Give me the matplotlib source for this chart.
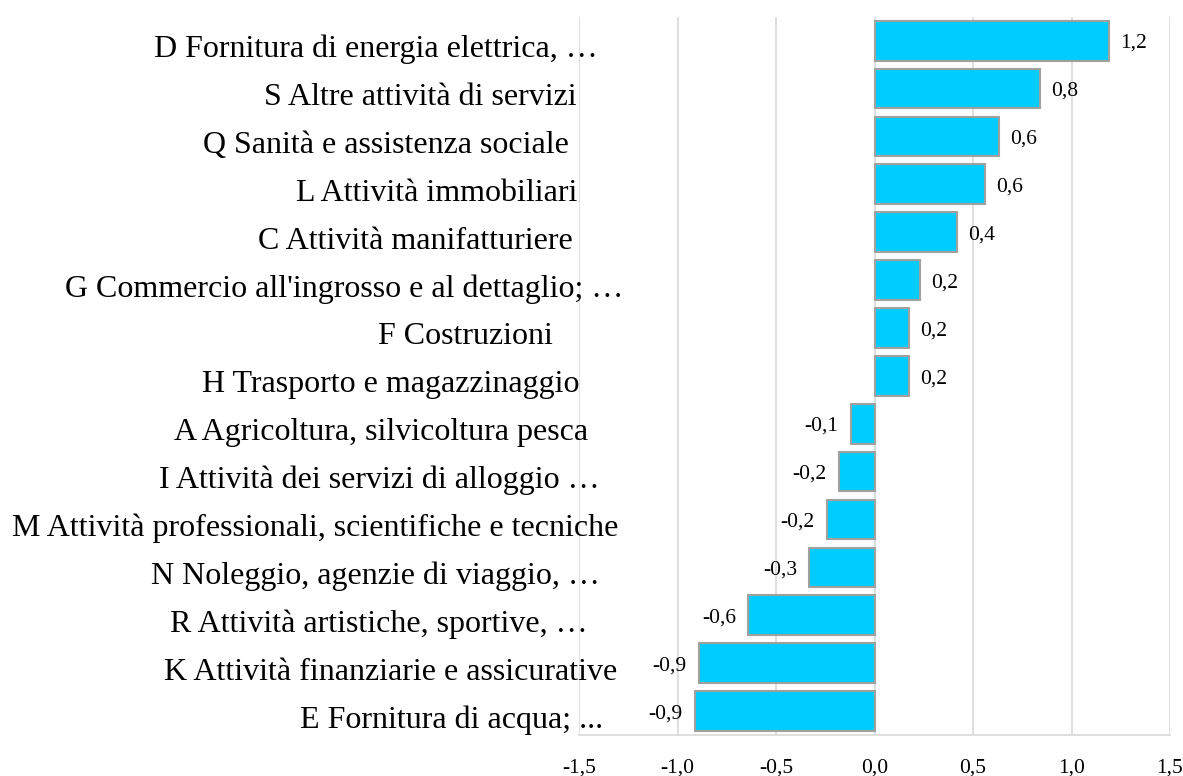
import matplotlib.pyplot as plt
from matplotlib.ticker import FuncFormatter

# Categories, top to bottom
categories = [
    "D Fornitura di energia elettrica, \u2026",
    "S Altre attività di servizi",
    "Q Sanità e assistenza sociale ",
    "L Attività immobiliari",
    "C Attività manifatturiere",
    "G Commercio all'ingrosso e al dettaglio; \u2026",
    "F Costruzioni   ",
    "H Trasporto e magazzinaggio",
    "A Agricoltura, silvicoltura pesca",
    "I Attività dei servizi di alloggio \u2026",
    "M Attività professionali, scientifiche e tecniche",
    "N Noleggio, agenzie di viaggio, \u2026",
    "R Attività artistiche, sportive, \u2026",
    "K Attività finanziarie e assicurative",
    "E Fornitura di acqua; ...",
]
values = [1.19, 0.84, 0.63, 0.56, 0.42, 0.23, 0.175, 0.175,
          -0.12, -0.18, -0.24, -0.33, -0.64, -0.89, -0.91]
x_ticks = [-1.5, -1.0, -0.5, 0.0, 0.5, 1.0, 1.5]

# where each category label ends (figure pixels, from the left)
label_right_px = [598, 577, 577, 577, 573, 623, 577, 579,
                  588, 600, 618, 600, 588, 617, 603]

plt.rcParams['font.family'] = ['Liberation Serif', 'DejaVu Serif']


def fmt(v):
    return f"{v:.1f}".replace('.', ',')


fig = plt.figure(figsize=(11.83, 7.76), dpi=100)
ax = fig.add_axes([579 / 1183, 1 - 735 / 776, (1170 - 579) / 1183, (735 - 16.7) / 776])

pos = list(range(len(categories)))
ax.barh(pos, values, height=0.83, color='#00CCFF', edgecolor='#A0A0A0',
        linewidth=1.5, zorder=3)

ax.set_xlim(-1.5, 1.5)
ax.set_ylim(len(categories) - 0.5, -0.5)
ax.set_xticks(x_ticks)
ax.xaxis.set_major_formatter(FuncFormatter(lambda v, _: fmt(v)))
ax.tick_params(axis='x', length=0, pad=17, labelsize=15.5)
ax.set_yticks([])
ax.grid(axis='x', color='#D9D9D9', linewidth=1.2, zorder=0)

for side in ['top', 'right', 'left']:
    ax.spines[side].set_visible(False)
ax.spines['bottom'].set_color('#D9D9D9')
ax.spines['bottom'].set_linewidth(1.2)

# value labels
for p, v in zip(pos, values):
    if v >= 0:
        ax.annotate(fmt(v), (v, p), xytext=(8, -5.2), textcoords='offset points',
                    ha='left', va='baseline', fontsize=15.5)
    else:
        ax.annotate(fmt(v), (v, p), xytext=(-9, -5.2), textcoords='offset points',
                    ha='right', va='baseline', fontsize=15.5)

# category labels (baseline sits a bit below the bar centre)
for p, name, rx in zip(pos, categories, label_right_px):
    ax.annotate(name, (rx, p), xycoords=('figure pixels', 'data'),
                xytext=(0, -11.9), textcoords='offset points',
                ha='right', va='baseline', fontsize=23, annotation_clip=False)

fig.savefig('out.png', dpi=100)
